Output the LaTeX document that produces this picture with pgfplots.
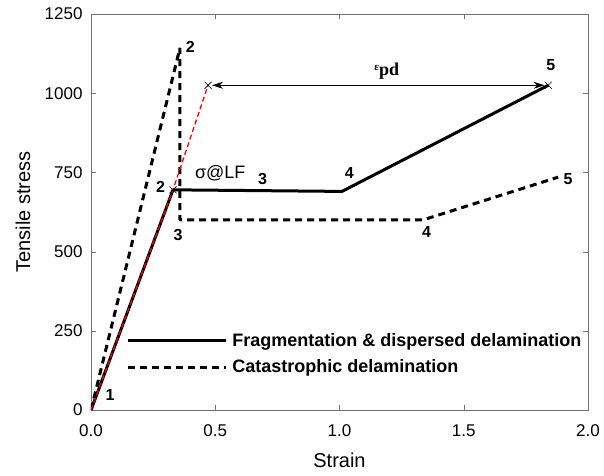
\documentclass[border=0pt]{standalone}
\usepackage{pgfplots}
\pgfplotsset{compat=1.18}
\usepackage{fontspec}
\setmainfont{Liberation Sans}
\newfontfamily\serifb{Liberation Serif}
\usetikzlibrary{arrows.meta}
\begin{document}
\begin{tikzpicture}
\begin{axis}[
  name=ax,
  scale only axis,
  width=497pt, height=396pt,
  xmin=0, xmax=2, ymin=0, ymax=1250,
  xtick={0,0.5,1,1.5,2},
  ytick={0,250,500,750,1000,1250},
  xticklabel style={yshift=-11pt, /pgf/number format/fixed, /pgf/number format/fixed zerofill, /pgf/number format/precision=1},
  /pgf/number format/1000 sep={},
  /pgf/number format/assume math mode=true,
  tick label style={font=\fontsize{17}{19}\selectfont},
  yticklabel style={xshift=-5pt},
  label style={font=\fontsize{20}{23}\selectfont},
  xlabel={Strain}, ylabel={Tensile stress},
  xlabel style={at={(axis description cs:0.5,-0.128)}, anchor=center},
  ylabel style={at={(axis description cs:-0.137,0.5)}, anchor=center},
  axis line style={black!55},
  tick style={black!55, major tick length=5pt},
  tick align=inside,
  legend style={draw=none, fill=none, at={(axis cs:0.129,177)}, anchor=west,
    font=\bfseries\fontsize{18}{20}\selectfont, row sep=8pt,
    /tikz/every odd column/.append style={column sep=3pt}},
  legend image code/.code={\draw[#1] (0pt,0pt) -- (98pt,0pt);},
  legend cell align=left,
]
% fragmentation & dispersed delamination
\addplot[black, line width=3pt, line join=bevel] coordinates {(0,0) (0.33,695) (1.01,690) (1.84,1025)};
\addlegendentry{Fragmentation \& dispersed delamination}

% catastrophic delamination
\addplot[black, line width=3pt, line join=bevel, dash pattern=on 7pt off 5pt] coordinates {(0,0) (0.358,1143) (0.358,600) (1.336,600) (1.88,735)};
\addlegendentry{Catastrophic delamination}

% projection to failure
\addplot[red, line width=1.3pt, dash pattern=on 5pt off 3pt, forget plot] coordinates {(0,0) (0.33,695) (0.471,1025)};

% marks
\addplot[only marks, mark=x, mark size=5pt, black, semithick, forget plot] coordinates {(0.33,695) (0.471,1025) (1.84,1025)};

% epsilon_pd arrow
\addplot[black, thick, {Stealth[length=11pt,width=7pt]}-{Stealth[length=11pt,width=7pt]}, forget plot] coordinates {(0.487,1025) (1.825,1025)};

\node[font=\bfseries\fontsize{16}{18}\selectfont] at (axis cs:0.077,47) {1};
\node[font=\bfseries\fontsize{16}{18}\selectfont] at (axis cs:0.40,1146) {2};
\node[font=\bfseries\fontsize{16}{18}\selectfont] at (axis cs:0.28,704) {2};
\node[font=\fontsize{18}{20}\selectfont] at (axis cs:0.52,748) {σ@LF};
\node[font=\bfseries\fontsize{16}{18}\selectfont] at (axis cs:0.69,729) {3};
\node[font=\bfseries\fontsize{16}{18}\selectfont] at (axis cs:1.04,748) {4};
\node[font=\bfseries\fontsize{16}{18}\selectfont] at (axis cs:0.35,552) {3};
\node[font=\bfseries\fontsize{16}{18}\selectfont] at (axis cs:1.35,562) {4};
\node[font=\bfseries\fontsize{16}{18}\selectfont] at (axis cs:1.85,1089) {5};
\node[font=\bfseries\fontsize{16}{18}\selectfont] at (axis cs:1.92,729) {5};
\node[anchor=south, inner sep=1pt, font=\serifb\bfseries\fontsize{18}{20}\selectfont] at (axis cs:1.19,1040) {\raisebox{5pt}{\fontsize{11}{11}\selectfont ε}pd};
\end{axis}
\path ([xshift=-91pt,yshift=-65pt]ax.south west) rectangle ([xshift=16pt,yshift=14pt]ax.north east);
\end{tikzpicture}
\end{document}
